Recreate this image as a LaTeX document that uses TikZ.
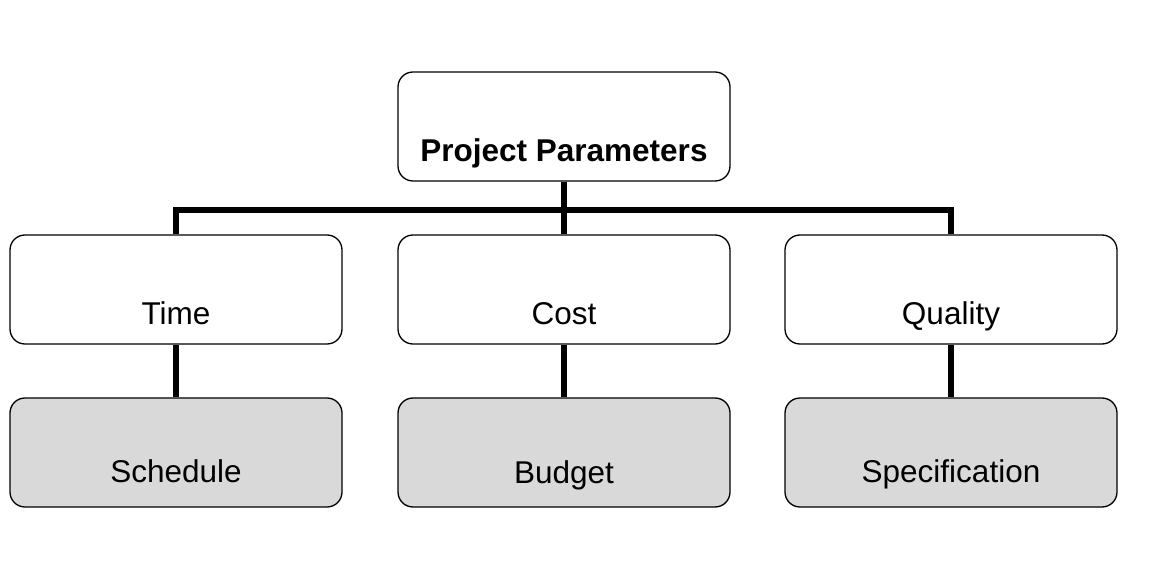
\documentclass[tikz,border=0pt]{standalone}
\usepackage{fontspec}
\setmainfont{Liberation Sans}
\definecolor{boxgray}{RGB}{217,217,217}
\begin{document}
\begin{tikzpicture}[x=1pt,y=-1pt,
  box/.style={draw=black,line width=1.3pt,rounded corners=15pt,minimum width=332pt,minimum height=109pt,inner sep=0pt,fill=white},
  graybox/.style={box,fill=boxgray},
  lbl/.style={anchor=base,inner sep=0pt,font=\fontsize{31.5}{35}\selectfont},
  bar/.style={line width=5.5pt}]
\useasboundingbox[fill=white] (0,0) rectangle (1151,577);
\node[box] (pp) at (564,126.5) {};
\node[box] (time) at (176,289.5) {};
\node[box] (cost) at (564,289.5) {};
\node[box] (quality) at (951,289.5) {};
\node[graybox] (sched) at (176,452.5) {};
\node[graybox] (budget) at (564,452.5) {};
\node[graybox] (spec) at (951,452.5) {};
\coordinate (barc) at (564,210);
\draw[bar] (pp.south) -- (cost.north);
\draw[bar] (time.north) -- (time.north |- barc) -- (quality.north |- barc) -- (quality.north);
\draw[bar] (time.south) -- (sched.north);
\draw[bar] (cost.south) -- (budget.north);
\draw[bar] (quality.south) -- (spec.north);
\node[lbl,font=\fontsize{31.5}{35}\selectfont\bfseries] (tpp) at (564,162) {Project Parameters};
\node[lbl] (ttime) at (176,324.5) {Time};
\node[lbl] (tcost) at (564,324.5) {Cost};
\node[lbl] (tqual) at (951,324.5) {Quality};
\node[lbl] (tsched) at (176,482.5) {Schedule};
\node[lbl] (tbudget) at (564,483.5) {Budget};
\node[lbl] (tspec) at (951,482.5) {Specification};
\end{tikzpicture}
\end{document}
